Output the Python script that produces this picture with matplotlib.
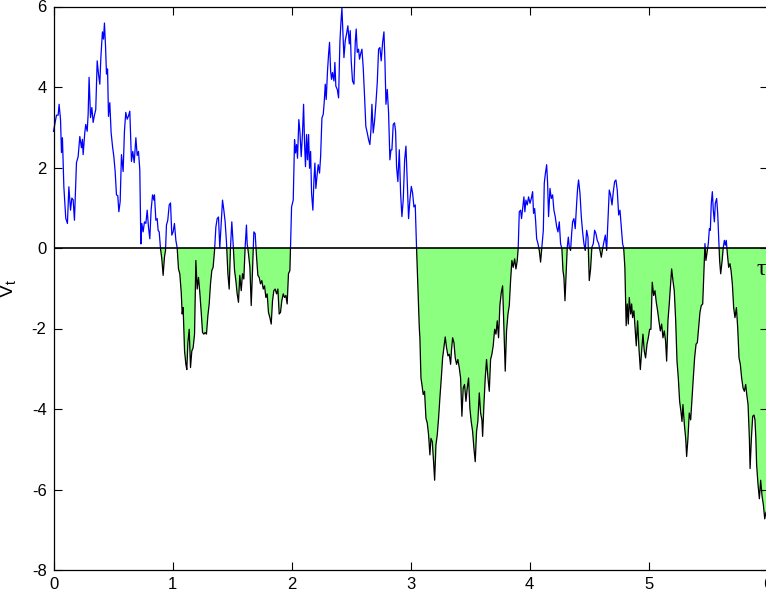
import numpy as np
import matplotlib
matplotlib.use("Agg")
import matplotlib.pyplot as plt
from matplotlib.patches import Rectangle

plt.rcParams['font.family'] = ['Liberation Sans', 'DejaVu Sans']
plt.rcParams['axes.unicode_minus'] = False

t = [0.000, 0.025, 0.039, 0.047, 0.059, 0.067, 0.075, 0.087, 0.103, 0.117, 0.129, 0.143, 0.154, 0.165, 0.176,
     0.193, 0.207, 0.221, 0.235, 0.243, 0.249, 0.263, 0.271, 0.283, 0.291, 0.299, 0.311, 0.322, 0.333, 0.344,
     0.355, 0.367, 0.378, 0.389, 0.398, 0.411, 0.420, 0.428, 0.437, 0.445, 0.454, 0.462, 0.473, 0.484, 0.496,
     0.507, 0.518, 0.529, 0.540, 0.549, 0.560, 0.571, 0.585, 0.596, 0.607, 0.619, 0.630, 0.641, 0.655, 0.666,
     0.678, 0.692, 0.703, 0.714, 0.725,
     0.734, 0.742, 0.753, 0.764, 0.776, 0.787, 0.798, 0.809, 0.820, 0.832, 0.843, 0.848, 0.860, 0.871, 0.879,
     0.888, 0.899, 0.910, 0.921, 0.932, 0.941, 0.949, 0.960, 0.972, 0.983, 0.994, 1.005, 1.016, 1.028, 1.039,
     1.050, 1.061, 1.073, 1.081, 1.089, 1.101, 1.112, 1.120, 1.129, 1.140, 1.151, 1.162, 1.173, 1.185, 1.196,
     1.207, 1.218, 1.229, 1.241, 1.252, 1.263, 1.274, 1.285, 1.297, 1.308, 1.319, 1.330, 1.341, 1.353, 1.364,
     1.375, 1.386, 1.397, 1.409, 1.420, 1.431, 1.442, 1.453, 1.465, 1.476, 1.487, 1.498, 1.509, 1.521, 1.532,
     1.543, 1.554, 1.565, 1.577, 1.588, 1.599, 1.610, 1.621, 1.627, 1.638, 1.650, 1.661, 1.672, 1.683, 1.694,
     1.706, 1.717, 1.728, 1.739, 1.750, 1.762, 1.773, 1.784, 1.795, 1.806, 1.818, 1.829, 1.840, 1.851, 1.862,
     1.874, 1.885, 1.896, 1.907, 1.918, 1.930, 1.941, 1.952, 1.963, 1.974, 1.986, 1.991, 2.000,
     2.014, 2.025, 2.033, 2.042, 2.050, 2.061, 2.070, 2.081, 2.092, 2.101, 2.109, 2.117, 2.126, 2.134, 2.143,
     2.151, 2.160, 2.168, 2.179, 2.188, 2.196, 2.204, 2.216, 2.224, 2.235, 2.244, 2.255, 2.266, 2.274, 2.283,
     2.291, 2.302, 2.311, 2.319, 2.328, 2.336, 2.344, 2.356, 2.364, 2.372, 2.384, 2.395, 2.406, 2.414, 2.423,
     2.431, 2.440, 2.451, 2.462, 2.473, 2.485, 2.493, 2.501, 2.512, 2.524, 2.535, 2.543, 2.552, 2.563, 2.571,
     2.580, 2.591, 2.602, 2.613, 2.624, 2.636, 2.647, 2.658, 2.667, 2.675, 2.686, 2.697, 2.709, 2.720, 2.731,
     2.742, 2.753, 2.765, 2.776, 2.784, 2.793, 2.804, 2.815, 2.826, 2.835, 2.843, 2.854, 2.865, 2.874, 2.882,
     2.893, 2.905, 2.916, 2.927, 2.938, 2.950, 2.961, 2.972, 2.983, 2.994, 3.006, 3.017, 3.028, 3.039, 3.050,
     3.064, 3.073, 3.078, 3.087, 3.095, 3.106, 3.117, 3.129, 3.140, 3.151, 3.162, 3.171, 3.182, 3.193, 3.202,
     3.213, 3.224, 3.235, 3.246, 3.258, 3.269, 3.280, 3.291, 3.302, 3.314, 3.325, 3.336, 3.344, 3.353, 3.364,
     3.375, 3.386, 3.397, 3.409, 3.420, 3.431, 3.442, 3.453, 3.465, 3.476, 3.487, 3.498, 3.509, 3.521, 3.532,
     3.543, 3.554, 3.565, 3.577, 3.588, 3.599, 3.605, 3.616, 3.627, 3.638, 3.650, 3.661, 3.672, 3.683, 3.694,
     3.706, 3.717, 3.728, 3.739, 3.750, 3.762, 3.773, 3.784, 3.795, 3.806, 3.818, 3.829, 3.840, 3.851, 3.862,
     3.874, 3.885, 3.896, 3.904,
     3.913, 3.924, 3.932, 3.941, 3.952, 3.960, 3.969, 3.980, 3.991, 4.003, 4.014, 4.025, 4.033, 4.042, 4.050,
     4.059, 4.070, 4.081, 4.092, 4.103, 4.115, 4.123, 4.131, 4.143, 4.151, 4.159, 4.171, 4.182, 4.193, 4.204,
     4.215, 4.227, 4.238, 4.249, 4.260, 4.271, 4.280, 4.288, 4.297, 4.305, 4.316, 4.325, 4.333, 4.344, 4.353,
     4.361, 4.372, 4.383, 4.395, 4.403, 4.411, 4.423, 4.434, 4.445, 4.456, 4.467, 4.479, 4.490, 4.501, 4.512,
     4.523, 4.535, 4.546, 4.557, 4.568, 4.580, 4.591, 4.602, 4.613, 4.624, 4.636, 4.647, 4.658, 4.669, 4.680,
     4.692, 4.703, 4.714, 4.725, 4.736, 4.748, 4.759, 4.770, 4.781, 4.790,
     4.800, 4.806, 4.811, 4.820, 4.829, 4.837, 4.849, 4.857, 4.865, 4.876, 4.888, 4.896, 4.907, 4.918, 4.930,
     4.941, 4.952, 4.963, 4.974, 4.986, 4.997, 5.008, 5.019, 5.030, 5.042, 5.053, 5.064, 5.075, 5.086, 5.098,
     5.109, 5.120, 5.131, 5.142, 5.151, 5.162, 5.173, 5.185, 5.193, 5.204, 5.215, 5.227, 5.238, 5.249, 5.260,
     5.271, 5.280, 5.288, 5.300, 5.311, 5.319, 5.330, 5.341, 5.353, 5.364, 5.375, 5.386, 5.398, 5.409, 5.420,
     5.431, 5.442, 5.454, 5.465, 5.473, 5.481, 5.493, 5.501, 5.510, 5.518, 5.526, 5.535, 5.543, 5.552, 5.560,
     5.571, 5.580, 5.588, 5.596, 5.605, 5.616, 5.627, 5.636, 5.644, 5.652, 5.661, 5.672, 5.683, 5.692, 5.703,
     5.714, 5.725, 5.737, 5.748, 5.759, 5.770, 5.781, 5.793, 5.804, 5.815, 5.824, 5.835, 5.846, 5.852, 5.863,
     5.874, 5.885, 5.893, 5.900, 5.907, 5.919, 5.930, 5.941, 5.952, 5.964, 5.975, 5.986, 6.000]

V = [2.90, 3.30, 3.30, 3.57, 3.19, 2.37, 2.74, 1.52, 0.74, 0.61, 1.52, 0.94, 1.24, 1.20, 0.69,
     2.12, 2.27, 2.77, 2.49, 2.70, 2.32, 2.87, 3.07, 2.90, 3.32, 4.24, 3.24, 3.49, 3.12, 3.30,
     3.44, 4.65, 4.32, 4.07, 4.74, 5.37, 5.19, 5.59, 5.02, 4.32, 4.45, 3.27, 3.61, 2.87, 2.52,
     2.27, 1.90, 1.32, 1.30, 0.90, 1.15, 2.32, 1.90, 2.90, 3.37, 3.20, 3.28, 3.40, 2.15, 2.40,
     2.12, 2.74, 2.30, 2.40, 1.94,
     0.10, 0.61, 0.40, 0.65, 0.61, 0.94, 0.52, 0.23, 0.94, 1.32, 1.19, 1.32, 0.69, 0.73, 0.44,
     0.40, -0.02, -0.27, -0.68, -0.23, -0.06, 0.57, 0.69, 1.07, 1.12, 0.32, 0.40, 0.61, 0.19, 0.00,
     -0.52, -0.64, -1.10, -1.64, -1.48, -2.56, -2.89, -3.02, -2.35, -2.02, -2.97, -2.56, -2.48, -2.14, -0.31,
     -1.02, -0.73, -1.10, -1.60, -2.10, -2.14, -2.10, -2.14, -1.68, -1.39, -0.89, -0.56, -0.48, -0.06, 0.52,
     0.73, 0.77, 0.00, 0.61, 1.19, 0.94, 0.65, 0.15, -0.64, -1.02, 0.02, 0.65, 0.11, -0.56, -0.81,
     -1.14, -1.35, -0.68, -1.06, -0.64, -0.77, 0.02, 0.57, 0.11, -0.14, -0.48, -1.43, -0.56, 0.40, 0.36,
     -0.23, -0.68, -0.73, -0.89, -0.81, -1.02, -0.94, -1.23, -1.14, -1.60, -1.73, -1.89, -1.31, -1.06, -1.02,
     -1.14, -1.02, -1.64, -1.60, -1.31, -1.14, -1.23, -1.18, -1.39, -0.64, -0.56, -0.02, 1.02,
     1.19, 2.69, 2.36, 2.57, 2.23, 3.19, 2.90, 2.27, 2.86, 3.57, 2.61, 2.02, 2.82, 2.19, 2.82,
     1.98, 2.40, 1.36, 0.94, 1.69, 2.11, 1.48, 1.86, 2.07, 1.86, 2.27, 3.23, 3.32, 3.61, 4.07,
     3.69, 4.40, 4.82, 5.11, 4.40, 4.19, 4.36, 4.15, 4.61, 4.02, 3.94, 3.73, 5.11, 5.57, 5.96,
     5.40, 4.73, 5.15, 5.32, 5.52, 5.07, 5.40, 4.65, 4.15, 4.07, 5.11, 5.44, 4.86, 4.94, 4.69,
     4.82, 4.94, 4.48, 3.78, 3.02, 2.86, 2.69, 2.57, 2.94, 3.57, 2.86, 3.15, 3.61, 4.11, 4.94,
     4.98, 4.65, 5.11, 5.37, 4.69, 3.57, 3.94, 3.36, 2.19, 2.44, 2.44, 3.07, 3.11, 2.90, 2.02,
     1.65, 2.44, 1.36, 0.78, 1.19, 2.19, 2.53, 1.65, 0.73, 1.19, 1.53, 1.36, 1.02, 1.07, 0.00,
     -1.23, -1.98, -2.23, -3.23, -3.39, -3.64, -3.56, -4.23, -4.35, -4.64, -5.14, -4.73, -4.81, -5.31, -5.77,
     -4.89, -4.64, -4.23, -3.73, -3.23, -2.73, -2.48, -2.21, -2.48, -2.68, -2.64, -2.89, -2.52, -2.23, -2.35,
     -2.73, -2.89, -2.77, -2.98, -3.23, -4.18, -3.48, -3.39, -3.81, -3.48, -3.23, -3.98, -4.31, -4.56, -4.98,
     -5.31, -4.56, -4.31, -3.60, -4.10, -4.27, -4.68, -3.89, -3.23, -2.77, -3.23, -3.56, -2.77, -2.64, -2.43,
     -2.02, -2.14, -1.81, -2.23, -1.43, -1.10, -0.94, -1.98, -3.06, -2.06, -1.64, -1.43, -0.81, -0.31, -0.48,
     -0.27, -0.52, -0.31, 0.00,
     0.90, 0.94, 0.73, 0.98, 1.27, 0.90, 1.19, 1.07, 1.27, 1.11, 1.23, 1.40, 0.86, 0.98, 0.69,
     0.23, 0.11, -0.06, -0.35, 0.02, 0.44, 1.61, 1.82, 2.07, 1.61, 0.78, 1.48, 1.23, 1.32, 0.94,
     0.78, 0.53, 0.40, 0.65, 0.11, -0.02, -0.56, -0.73, -1.31, -0.73, 0.02, 0.27, 0.02, -0.06, 0.36,
     0.65, 0.73, 0.48, 1.11, 1.48, 1.69, 1.36, 0.78, 0.40, 0.11, -0.06, 0.44, 0.27, -0.81, -0.52,
     0.02, 0.11, 0.44, 0.36, 0.19, 0.11, -0.06, -0.23, -0.02, 0.15, 0.32, -0.06, 0.69, 1.44, 1.32,
     1.07, 1.40, 1.65, 1.69, 1.44, 0.82, 0.94, 0.53, 0.11, 0.00,
     -0.48, -1.23, -1.93, -1.39, -1.89, -1.23, -1.64, -1.39, -1.73, -1.56, -2.06, -2.43, -1.81, -2.48, -3.02,
     -2.56, -2.14, -2.56, -2.73, -2.39, -2.23, -2.02, -2.02, -0.85, -1.18, -1.06, -1.35, -1.56, -1.81, -2.06,
     -1.89, -2.23, -2.06, -2.31, -2.81, -1.81, -1.39, -0.89, -0.52, -0.81, -1.06, -1.81, -2.81, -3.23, -3.81,
     -4.06, -4.31, -3.89, -4.39, -4.73, -5.18, -4.73, -4.10, -4.27, -3.73, -3.23, -2.73, -2.39, -2.35, -1.98,
     -1.60, -1.43, -1.39, -0.48, 0.11, -0.31, -0.06, 0.11, 0.48, 0.44, 1.11, 1.40, 0.94, 0.65, 1.11,
     1.23, 0.86, 0.27, -0.31, -0.64, -0.35, 0.02, 0.19, 0.07, 0.19, -0.14, -0.48, -0.39, -0.56, -0.89,
     -1.48, -1.73, -1.48, -1.98, -2.73, -2.89, -3.23, -3.48, -3.56, -3.39, -3.64, -3.89, -4.73, -5.48, -4.73,
     -4.18, -4.15, -4.27, -4.70, -5.39, -5.89, -6.23, -5.77, -6.15, -6.39, -6.73, -6.56, -6.65]

xticks = [0, 1, 2, 3, 4, 5, 6]
yticks = [-8, -6, -4, -2, 0, 2, 4, 6]

t = np.array(t)
V = np.array(V)

W, H = 766, 592
fig = plt.figure(figsize=(W / 100, H / 100), dpi=100)
ax = fig.add_axes([53.5 / W, (H - 570) / H, (767.7 - 53.5) / W, (570 - 6.5) / H])

ax.fill_between(t, V, 0, where=V < 0, interpolate=True, color='#8CFF80', lw=0, zorder=1)

lb, = ax.plot(t, V, color='blue', lw=0.9, zorder=2)
lb.set_clip_path(Rectangle((-1, 0), 10, 20, transform=ax.transData))
lk, = ax.plot(t, V, color='black', lw=0.9, zorder=2)
lk.set_clip_path(Rectangle((-1, -20), 10, 20, transform=ax.transData))

ax.axhline(0, color='black', lw=1.2, zorder=3)

ax.text(5.945, -0.53, 'τ', fontsize=17, family=['Liberation Serif', 'DejaVu Serif'],
        ha='center', va='center', zorder=4)

ax.set_xlim(0, 6)
ax.set_ylim(-8, 6)
ax.set_xticks(xticks)
ax.set_yticks(yticks)
ax.tick_params(direction='in', length=6, width=0.8, top=True, right=True, labelsize=12, pad=5)
for s in ax.spines.values():
    s.set_linewidth(0.9)

ax.set_ylabel('V$_\\mathregular{t}$', fontsize=14)
ax.yaxis.set_label_coords(-0.048, 0.5)

fig.savefig('out.png', dpi=100)
